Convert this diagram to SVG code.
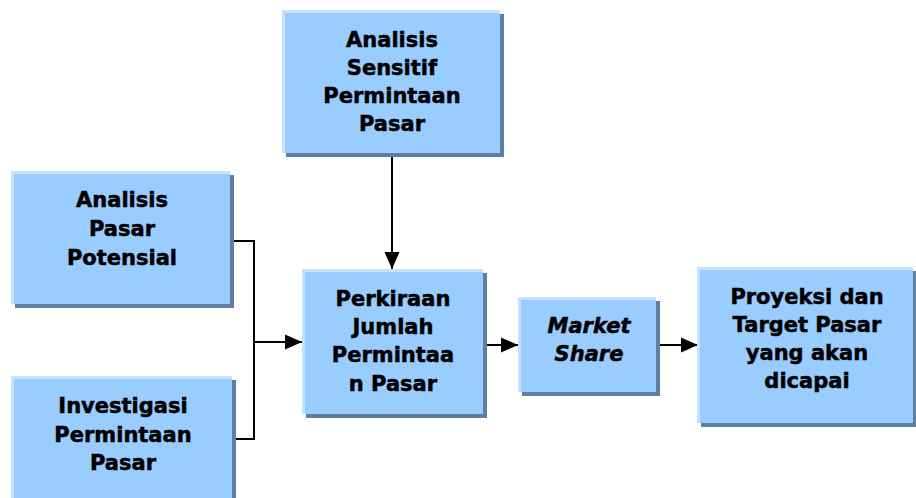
<svg xmlns="http://www.w3.org/2000/svg" width="916" height="498" viewBox="0 0 916 498">
  <style>
    .shadow { fill: #5d7fa3; }
    .edge { fill: #c4e1ff; }
    .face { fill: #99ccff; }
    .label { font-family: "DejaVu Sans", Verdana, sans-serif; font-weight: bold; font-size: 21px; fill: #000; stroke: #000; stroke-width: 0.5; text-anchor: middle; }
    .it { font-style: italic; }
    .wire { fill: none; stroke: #000; stroke-width: 2; }
  </style>
  <defs>
    <marker id="arrow" markerUnits="userSpaceOnUse" markerWidth="17" markerHeight="17" viewBox="0 0 17 17" refX="17" refY="8.5" orient="auto">
      <path d="M0,1 L17,8.5 L0,16 Z" fill="#000"/>
    </marker>
  </defs>
  <rect width="916" height="498" fill="#fff"/>

  <!-- connectors -->
  <g id="connectors">
    <polyline class="wire" points="230,241 254,241 254,439 232,439"/>
    <line class="wire" x1="254" y1="342" x2="302" y2="342" marker-end="url(#arrow)"/>
    <line class="wire" x1="392" y1="157" x2="392" y2="269" marker-end="url(#arrow)"/>
    <line class="wire" x1="486" y1="345" x2="518" y2="345" marker-end="url(#arrow)"/>
    <line class="wire" x1="659" y1="345" x2="698" y2="345" marker-end="url(#arrow)"/>
  </g>

  <g id="analisis-sensitif">
    <rect class="shadow" x="286" y="14" width="218" height="143"/>
    <rect class="edge" x="282" y="10" width="218" height="143"/>
    <rect class="face" x="285" y="13" width="215" height="140"/>
    <text class="label" x="392" y="47">Analisis</text>
    <text class="label" x="392" y="75">Sensitif</text>
    <text class="label" x="392" y="103">Permintaan</text>
    <text class="label" x="392" y="131">Pasar</text>
  </g>

  <g id="analisis-pasar">
    <rect class="shadow" x="15" y="175" width="219" height="133"/>
    <rect class="edge" x="11" y="171" width="219" height="133"/>
    <rect class="face" x="14" y="174" width="216" height="130"/>
    <text class="label" x="122" y="207">Analisis</text>
    <text class="label" x="122" y="236">Pasar</text>
    <text class="label" x="122" y="265">Potensial</text>
  </g>

  <g id="investigasi">
    <rect class="shadow" x="15" y="380" width="221" height="125"/>
    <rect class="edge" x="11" y="376" width="221" height="125"/>
    <rect class="face" x="14" y="379" width="218" height="122"/>
    <text class="label" x="123" y="413">Investigasi</text>
    <text class="label" x="123" y="442">Permintaan</text>
    <text class="label" x="123" y="470">Pasar</text>
  </g>

  <g id="perkiraan">
    <rect class="shadow" x="306" y="273" width="181" height="145"/>
    <rect class="edge" x="302" y="269" width="181" height="145"/>
    <rect class="face" x="305" y="272" width="178" height="142"/>
    <text class="label" x="393" y="306">Perkiraan</text>
    <text class="label" x="393" y="334">Jumlah</text>
    <text class="label" x="393" y="362">Permintaa</text>
    <text class="label" x="393" y="391">n Pasar</text>
  </g>

  <g id="market-share">
    <rect class="shadow" x="522" y="301" width="138" height="95"/>
    <rect class="edge" x="518" y="297" width="138" height="95"/>
    <rect class="face" x="521" y="300" width="135" height="92"/>
    <text class="label it" x="589" y="333">Market</text>
    <text class="label it" x="589" y="361">Share</text>
  </g>

  <g id="proyeksi">
    <rect class="shadow" x="701" y="271" width="216" height="156"/>
    <rect class="edge" x="697" y="267" width="216" height="156"/>
    <rect class="face" x="700" y="270" width="213" height="153"/>
    <text class="label" x="807" y="304">Proyeksi dan</text>
    <text class="label" x="807" y="332">Target Pasar</text>
    <text class="label" x="807" y="360">yang akan</text>
    <text class="label" x="807" y="388">dicapai</text>
  </g>
</svg>
